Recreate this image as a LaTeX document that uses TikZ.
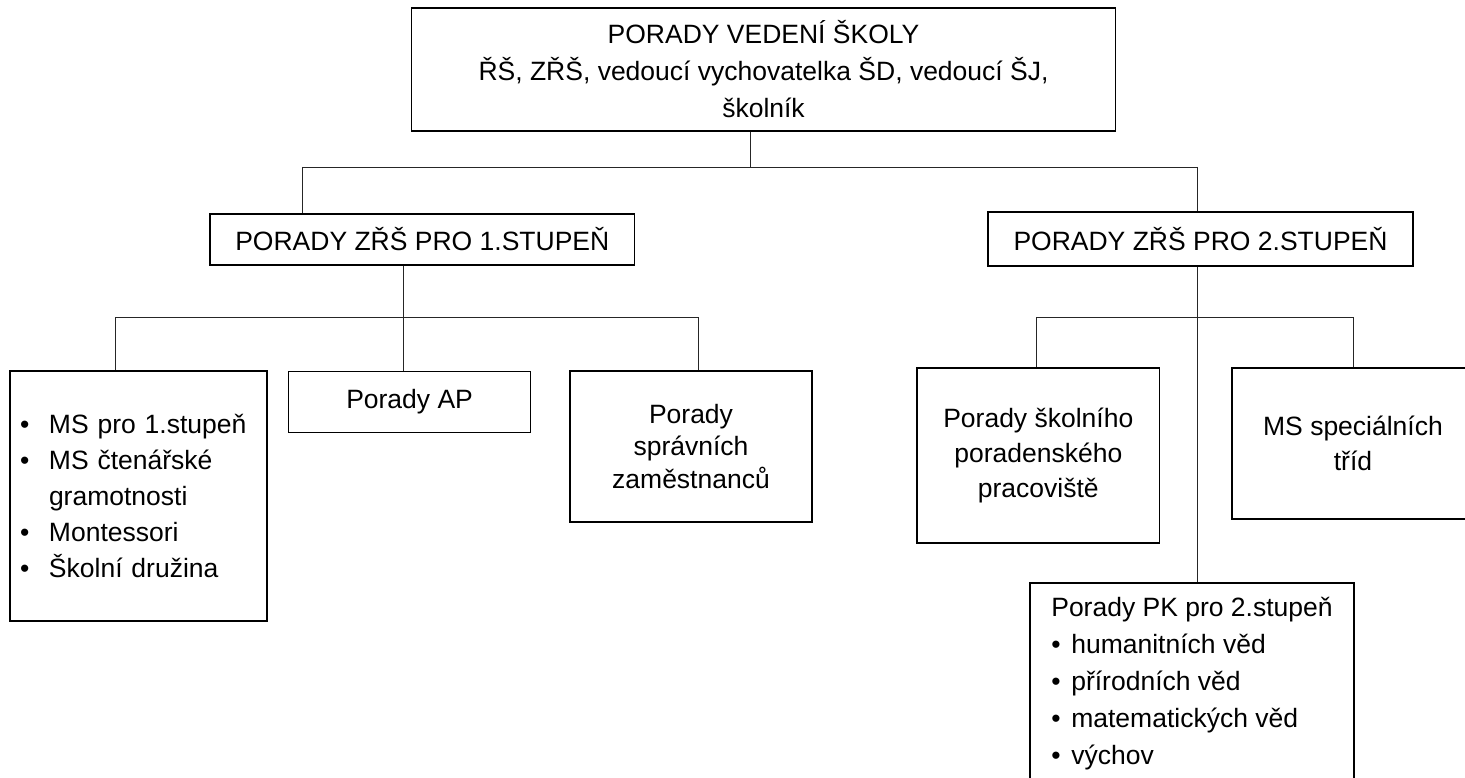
\documentclass[tikz,border=0pt]{standalone}
\usepackage{fontspec}
\setmainfont{Liberation Sans}
\newcommand{\itm}[1][29pt]{\makebox[#1][l]{\textbullet}}

\begin{document}
\begin{tikzpicture}[x=1pt, y=-1pt,
    box/.style={draw, line width=1.3pt, inner sep=0pt, align=center, font=\fontsize{26.5}{36}\selectfont},
    wire/.style={line width=0.9pt, black!85}]
      \useasboundingbox (0,0) rectangle (1465,778);
      \node[box, minimum width=704, minimum height=123, font=\fontsize{26.5}{37}\selectfont] (T) at (763.5, 69.5) {PORADY VEDENÍ ŠKOLY\\ŘŠ, ZŘŠ, vedoucí vychovatelka ŠD, vedoucí ŠJ,\\školník};
      \node[box, minimum width=424.5, minimum height=51] (Z1) at (422.3, 239.5) {PORADY ZŘŠ PRO 1.STUPEŇ};
      \node[box, minimum width=425, minimum height=54] (Z2) at (1200.5, 239) {PORADY ZŘŠ PRO 2.STUPEŇ};

      \node[box, minimum width=257, minimum height=250, text width=237, align=left] (M1) at (138.5, 496) {\itm MS pro 1.stupeň\\\itm MS čtenářské\\\hspace*{29pt}gramotnosti\\\itm Montessori\\\itm Školní družina};
      \node[box, minimum width=242.4, minimum height=61] (A1) at (409.6, 402) {Porady AP};
      \node[box, minimum width=242, minimum height=151, font=\fontsize{26.5}{32.5}\selectfont] (S1) at (691, 446.5) {Porady\\správních\\zaměstnanců};

      \node[box, minimum width=242.5, minimum height=175, font=\fontsize{26.5}{35}\selectfont] (P2) at (1038.3, 455.5) {Porady školního\\poradenského\\pracoviště};
      \node[box, minimum width=242, minimum height=151, font=\fontsize{26.5}{35}\selectfont] (M2) at (1353, 443.5) {MS speciálních\\tříd};
      \node[box, minimum width=324, minimum height=202, align=left, font=\fontsize{26.5}{37}\selectfont] (K2) at (1192, 684) {Porady PK pro 2.stupeň\\\itm[20pt]humanitních věd\\\itm[20pt]přírodních věd\\\itm[20pt]matematických věd\\\itm[20pt]výchov};

      \coordinate (t0) at (750, 167);
      \coordinate (t1) at (302.5, 167);
      \coordinate (t2) at (1197.6, 167);
      \draw[wire] (T.south -| t0) -- (t0);
      \draw[wire] (t1) -- (t2);
      \draw[wire] (t1) -- (t1 |- Z1.north);
      \draw[wire] (t2) -- (t2 |- Z2.north);

      \coordinate (u0) at (403, 317);
      \coordinate (u1) at (115, 317);
      \coordinate (u2) at (698, 317);
      \draw[wire] (Z1.south -| u0) -- (u0);
      \draw[wire] (u1) -- (u2);
      \draw[wire] (u1) -- (u1 |- M1.north);
      \draw[wire] (u0) -- (u0 |- A1.north);
      \draw[wire] (u2) -- (u2 |- S1.north);

      \coordinate (v0) at (1197, 317);
      \coordinate (v1) at (1036.6, 317);
      \coordinate (v2) at (1353.7, 317);
      \draw[wire] (Z2.south -| v0) -- (v0 |- K2.north);
      \draw[wire] (v1) -- (v2);
      \draw[wire] (v1) -- (v1 |- P2.north);
      \draw[wire] (v2) -- (v2 |- M2.north);
\end{tikzpicture}
\end{document}
